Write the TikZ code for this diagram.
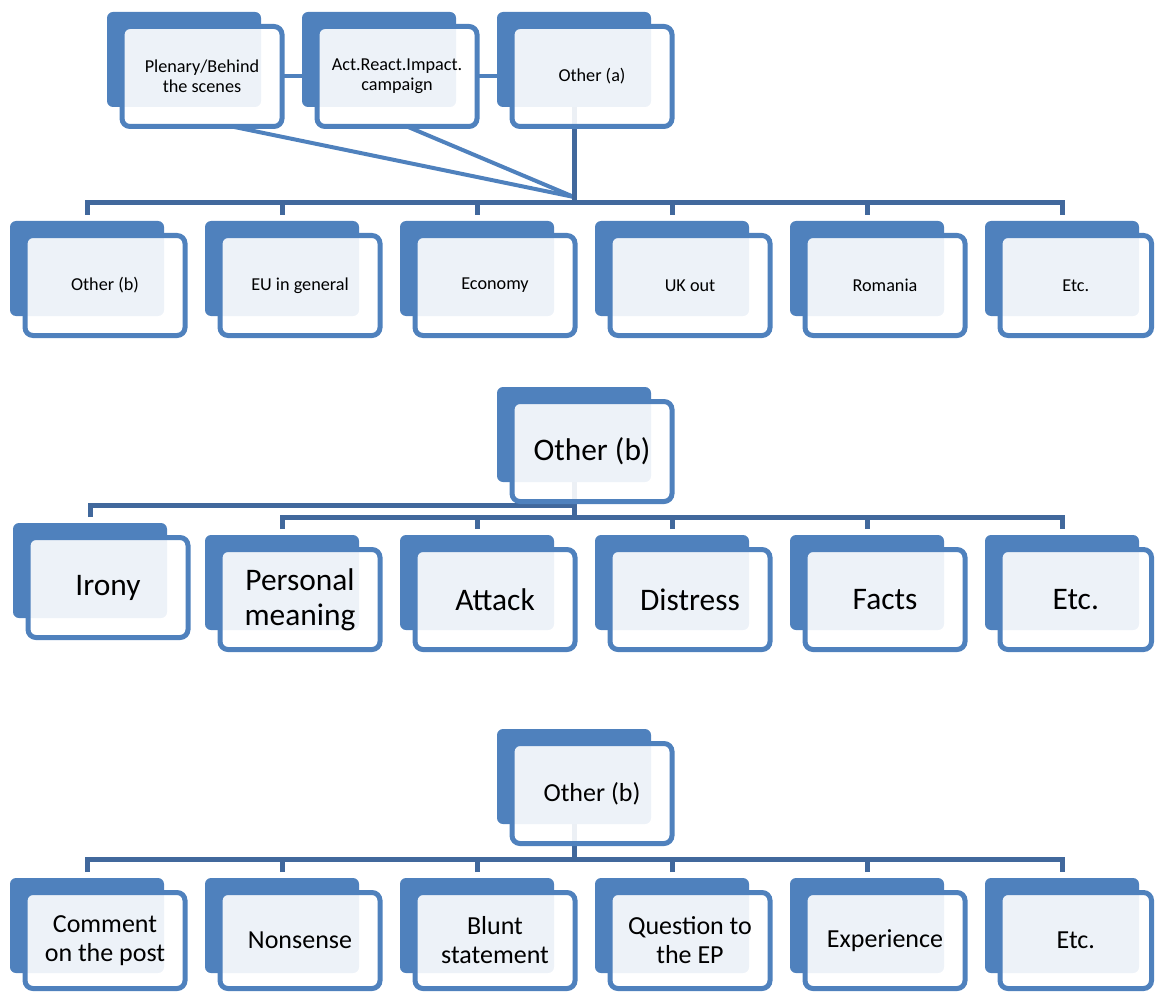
\documentclass[tikz,border=0pt]{standalone}
\usepackage{fontspec}
\setmainfont{Carlito}
\usetikzlibrary{calc}
\pgfdeclarelayer{backs}
\pgfdeclarelayer{lines}
\pgfsetlayers{backs,lines,main}
\definecolor{accent}{HTML}{4F81BD}
\definecolor{treecol}{HTML}{41689C}
\newcommand\OrgBox[7]{%
  \begin{pgfonlayer}{backs}
    \node[backbox] (#1b) at (#2,#3) {};
  \end{pgfonlayer}
  \node[frontbox,#6,minimum width=#4pt,minimum height=#5pt] (#1) at ({#2+15},{#3+14.5}) {#7};
}
\tikzset{
  backbox/.style={anchor=north west, fill=accent, draw=none, rounded corners=6pt,
    minimum width=154pt, minimum height=95pt, inner sep=0pt, outer sep=0pt},
  frontbox/.style={anchor=north west, draw=accent, line width=5pt, fill=white,
    fill opacity=0.9, text opacity=1, rounded corners=8pt, inner sep=0pt,
    outer sep=0pt, align=center, text=black},
  sfont/.style={font=\fontsize{18.2pt}{20pt}\selectfont},
  mfont/.style={font=\fontsize{26pt}{29pt}\selectfont},
  bfont/.style={font=\fontsize{31.4pt}{35pt}\selectfont},
  treeline/.style={draw=treecol, line width=5pt},
  linkline/.style={draw=accent, line width=4pt},
}
\begin{document}
\begin{tikzpicture}[x=1pt,y=-1pt]
\useasboundingbox (0,0) rectangle (1155,992);
% ---------- top row ----------
\OrgBox{t1}{107}{12}{160}{100}{sfont}{Plenary/Behind\\the scenes}
\OrgBox{t2}{302}{12}{160}{100}{sfont}{Act.React.Impact.\\campaign}
\OrgBox{t3}{497}{12}{160}{100}{sfont}{Other (a)}
% ---------- row 2 ----------
\OrgBox{a1}{10}{221}{160}{100}{sfont}{Other (b)}
\OrgBox{a2}{205}{221}{160}{100}{sfont}{EU in general}
\OrgBox{a3}{400}{221}{160}{100}{sfont}{Economy}
\OrgBox{a4}{595}{221}{160}{100}{sfont}{UK out}
\OrgBox{a5}{790}{221}{160}{100}{sfont}{Romania}
\OrgBox{a6}{985}{221}{151.5}{100}{sfont}{Etc.}
% ---------- row 3 ----------
\OrgBox{p2}{497}{387}{160}{100}{bfont}{Other (b)}
\OrgBox{c1}{13}{523}{160}{100}{bfont}{Irony}
\OrgBox{c2}{205}{535}{160}{100}{bfont}{Personal\\meaning}
\OrgBox{c3}{400}{535}{160}{100}{bfont}{Attack}
\OrgBox{c4}{595}{535}{160}{100}{bfont}{Distress}
\OrgBox{c5}{790}{535}{160}{100}{bfont}{Facts}
\OrgBox{c6}{985}{535}{151.5}{100}{bfont}{Etc.}
% ---------- row 4 ----------
\OrgBox{p3}{497}{729}{160}{100}{mfont}{Other (b)}
\OrgBox{d1}{10}{878}{160}{96}{mfont}{Comment\\on the post}
\OrgBox{d2}{205}{878}{160}{96}{mfont}{Nonsense}
\OrgBox{d3}{400}{878}{160}{96}{mfont}{Blunt\\statement}
\OrgBox{d4}{595}{878}{160}{96}{mfont}{Question to\\the EP}
\OrgBox{d5}{790}{878}{160}{96}{mfont}{Experience}
\OrgBox{d6}{985}{878}{151.5}{96}{mfont}{Etc.}
% ---------- connectors ----------
\begin{pgfonlayer}{lines}
  \coordinate (j1) at (574,197);
  \coordinate (bar2) at (574,202.5);
  \coordinate (bar3a) at (574,505);
  \coordinate (bar3b) at (574,517.5);
  \coordinate (bar4) at (574,859);
  % top row links
  \draw[linkline] (t1.east) -- (t2.west);
  \draw[linkline] (t2.east) -- (t3.west);
  \draw[linkline] ([xshift=30pt]t1.south) -- (j1);
  \draw[linkline] ([xshift=10pt]t2.south) -- (j1);
  % tree 1
  \draw[treeline] (t3b.south) -- (t3b.south |- bar2);
  \draw[treeline] ([yshift=6pt]a1b.north) |- (bar2) -| ([yshift=6pt]a6b.north);
  \foreach \k in {a2,a3,a4,a5}
    \draw[treeline] ([yshift=6pt]\k b.north) -- (\k b.north |- bar2);
  % tree 2
  \draw[treeline] (p2b.south) -- (p2b.south |- bar3b);
  \draw[treeline] ([yshift=6pt]c1b.north) |- (bar3a);
  \draw[treeline] ([yshift=6pt]c2b.north) |- (bar3b) -| ([yshift=6pt]c6b.north);
  \foreach \k in {c3,c4,c5}
    \draw[treeline] ([yshift=6pt]\k b.north) -- (\k b.north |- bar3b);
  % tree 3
  \draw[treeline] (p3b.south) -- (p3b.south |- bar4);
  \draw[treeline] ([yshift=6pt]d1b.north) |- (bar4) -| ([yshift=6pt]d6b.north);
  \foreach \k in {d2,d3,d4,d5}
    \draw[treeline] ([yshift=6pt]\k b.north) -- (\k b.north |- bar4);
\end{pgfonlayer}
\end{tikzpicture}
\end{document}
